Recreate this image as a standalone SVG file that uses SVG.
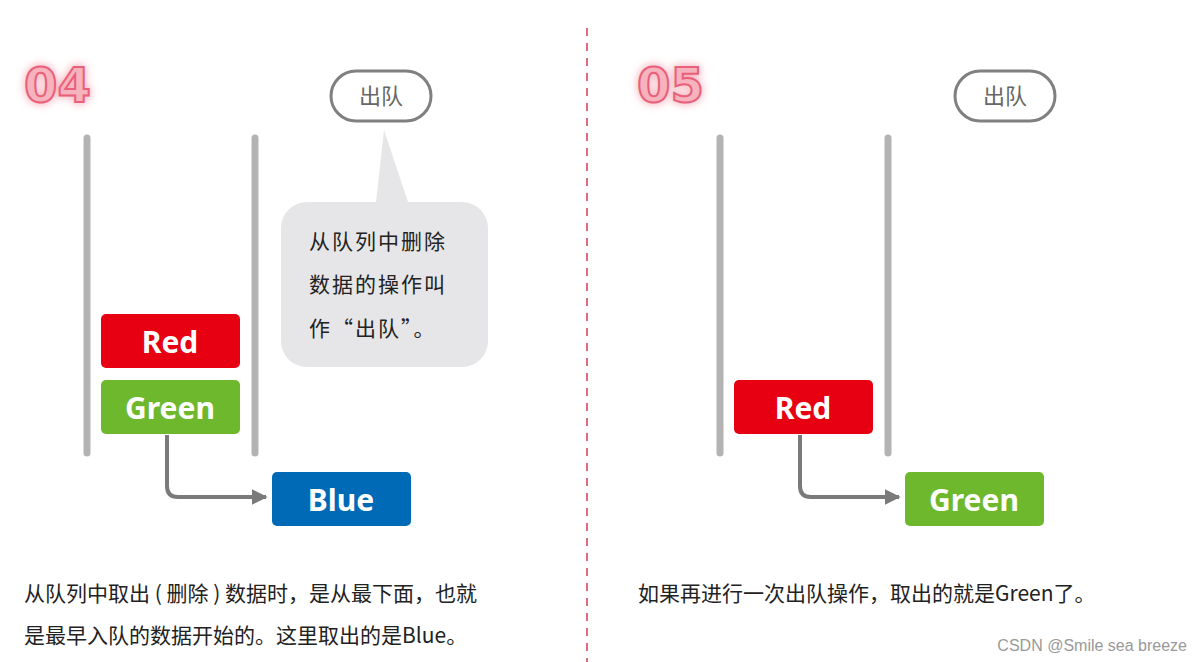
<svg xmlns="http://www.w3.org/2000/svg" width="1202" height="662" viewBox="0 0 1202 662">
<defs>
<style>
.wall{stroke:#b3b3b3;stroke-width:7;stroke-linecap:round}
.blk{font-family:"Noto Sans","DejaVu Sans",sans-serif;font-weight:bold;font-size:30px;fill:#fff;text-anchor:middle}
.cap{font-family:"Noto Sans CJK SC",sans-serif;font-size:21px;fill:#222}
.pill{fill:#fff;stroke:#808080;stroke-width:3}
.pt{font-family:"Noto Sans CJK SC",sans-serif;font-size:22px;fill:#666;text-anchor:middle}
.num{font-family:"DejaVu Sans",sans-serif;font-weight:bold;font-size:48px;fill:#f7b3bd;stroke:#e8607a;stroke-width:2}
.conn{fill:none;stroke:#7a7a7a;stroke-width:4}
</style>
<marker id="ah" viewBox="0 0 10 10" refX="9" refY="5" markerWidth="4" markerHeight="4" orient="auto" markerUnits="strokeWidth"><path d="M0,0L10,5L0,10z" fill="#7a7a7a"/></marker>
<filter id="glow" x="-30%" y="-30%" width="160%" height="160%"><feGaussianBlur stdDeviation="4"/></filter>
</defs>
<rect width="1202" height="662" fill="#fff"/>
<line x1="587" y1="28" x2="587" y2="662" stroke="#e06a7e" stroke-width="2" stroke-dasharray="8,7"/>
<g id="label04"><text x="24" y="102" class="num" fill-opacity="0.6" filter="url(#glow)">04</text><text x="24" y="102" class="num">04</text></g>
<g id="label05"><text x="637" y="102" class="num" fill-opacity="0.6" filter="url(#glow)">05</text><text x="637" y="102" class="num">05</text></g>
<g id="queue1"><line class="wall" x1="87" y1="138" x2="87" y2="453"/><line class="wall" x1="255" y1="138" x2="255" y2="453"/></g>
<g id="queue2"><line class="wall" x1="720" y1="138" x2="720" y2="453"/><line class="wall" x1="888" y1="138" x2="888" y2="453"/></g>
<g id="pill1"><rect class="pill" x="331" y="71" width="100" height="50" rx="25"/><text class="pt" x="381" y="104">出队</text></g>
<g id="pill2"><rect class="pill" x="955" y="71" width="100" height="50" rx="25"/><text class="pt" x="1005" y="104">出队</text></g>
<g id="callout"><path d="M384,130 L408,202 L376,202 Z" fill="#e6e6e8"/><rect x="281" y="202" width="207" height="165" rx="26" fill="#e6e6e8"/>
<text class="cap" x="309" y="249" letter-spacing="2">从队列中删除</text><text class="cap" x="309" y="292" letter-spacing="2">数据的操作叫</text><text class="cap" x="309" y="336" letter-spacing="2">作“出队”。</text></g>
<g id="connectors">
<path class="conn" d="M167,435 V486 Q167,497 178,497 H266" marker-end="url(#ah)"/>
<path class="conn" d="M800,435 V486 Q800,497 811,497 H899" marker-end="url(#ah)"/>
</g>
<g id="red1"><rect x="101" y="314" width="139" height="54" rx="5" fill="#e60012"/><text class="blk" x="170" y="353">Red</text></g>
<g id="green1"><rect x="101" y="380" width="139" height="54" rx="5" fill="#6db82d"/><text class="blk" x="170" y="419">Green</text></g>
<g id="blue1"><rect x="272" y="472" width="139" height="54" rx="5" fill="#006ab6"/><text class="blk" x="341" y="511">Blue</text></g>
<g id="red2"><rect x="734" y="380" width="139" height="54" rx="5" fill="#e60012"/><text class="blk" x="803" y="419">Red</text></g>
<g id="green2"><rect x="905" y="472" width="139" height="54" rx="5" fill="#6db82d"/><text class="blk" x="974" y="511">Green</text></g>
<text class="cap" x="24" y="601">从队列中取出 ( 删除 ) 数据时，是从最下面，也就</text>
<text class="cap" x="24" y="643">是最早入队的数据开始的。这里取出的是Blue。</text>
<text class="cap" x="638" y="601">如果再进行一次出队操作，取出的就是Green了。</text>
<text x="1187" y="651" font-family="Liberation Sans,sans-serif" font-size="16" fill="#999" text-anchor="end">CSDN @Smile sea breeze</text>
</svg>
